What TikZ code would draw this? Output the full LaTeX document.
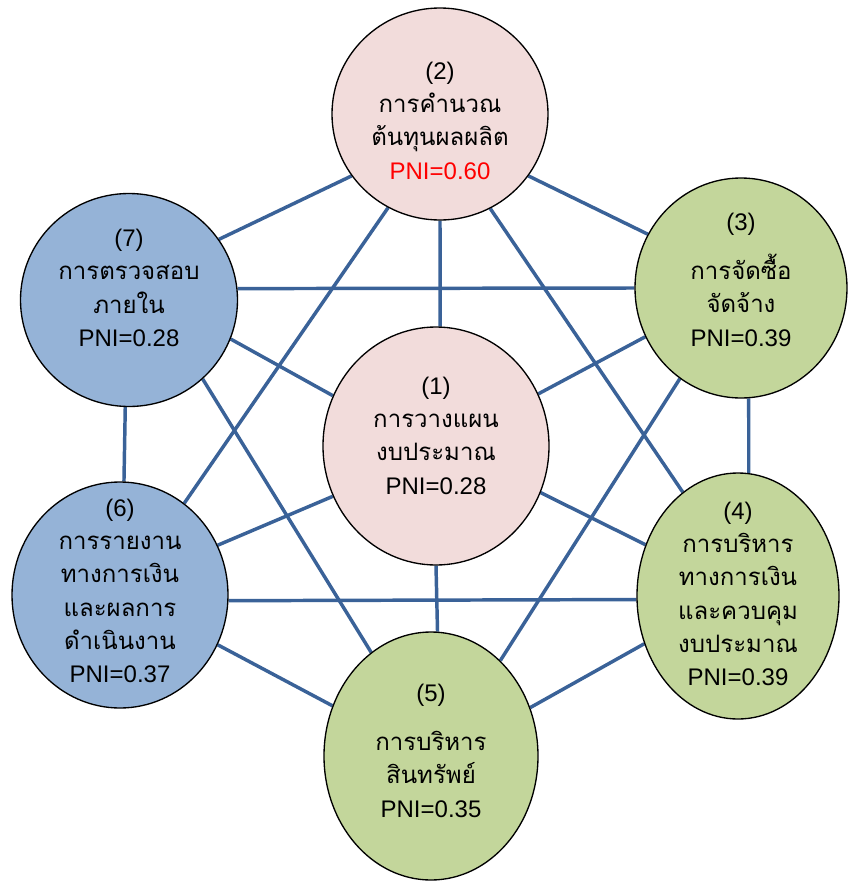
\documentclass[tikz,border=0pt]{standalone}
\usepackage{fontspec}
\setmainfont{Liberation Sans}
\newfontfamily\thaifont[Script=Thai]{Loma}
\usetikzlibrary{shapes.geometric,backgrounds}
\definecolor{pinkfill}{HTML}{F2DCDB}
\definecolor{greenfill}{HTML}{C3D69B}
\definecolor{bluefill}{HTML}{95B3D7}
\definecolor{linkblue}{HTML}{3A6298}
\begin{document}
\begin{tikzpicture}[x=0.75pt,y=-0.75pt,
  bubble/.style={ellipse, draw=black, line width=1pt, inner sep=0pt},
  labeltext/.style={align=center, font=\fontsize{18}{25}\selectfont, inner sep=0pt},
  link/.style={draw=linkblue, line width=2.6pt}]
\useasboundingbox (0,0) rectangle (847,882);
% ellipses
\node[bubble, fill=pinkfill,  minimum width=169.5pt, minimum height=178.5pt] (e1) at (436,446) {};
\node[bubble, fill=pinkfill,  minimum width=162pt,   minimum height=159pt]   (e2) at (440,114) {};
\node[bubble, fill=greenfill, minimum width=159pt,   minimum height=165pt]   (e3) at (741,288) {};
\node[bubble, fill=greenfill, minimum width=151.5pt, minimum height=184.5pt] (e4) at (738,596) {};
\node[bubble, fill=greenfill, minimum width=160.5pt, minimum height=186pt]   (e5) at (431,756) {};
\node[bubble, fill=bluefill,  minimum width=162pt,   minimum height=169.5pt] (e6) at (120,595) {};
\node[bubble, fill=bluefill,  minimum width=162.75pt,minimum height=159.75pt](e7) at (129,300) {};
% texts
\node[labeltext] (t1) at (436,435.5) {(1)\\{\thaifont การวางแผน}\\{\thaifont งบประมาณ}\\PNI=0.28};
\node[labeltext] (t2) at (440,120.5) {(2)\\{\thaifont การคำนวณ}\\{\thaifont ต้นทุนผลผลิต}\\\textcolor{red}{PNI=0.60}};
\node[labeltext] (t3) at (741,279.5) {(3)\\[12pt]{\thaifont การจัดซื้อ}\\{\thaifont จัดจ้าง}\\PNI=0.39};
\node[labeltext] (t4) at (738,594) {(4)\\{\thaifont การบริหาร}\\{\thaifont ทางการเงิน}\\{\thaifont และควบคุม}\\{\thaifont งบประมาณ}\\PNI=0.39};
\node[labeltext] (t5) at (431,750.5) {(5)\\[12pt]{\thaifont การบริหาร}\\{\thaifont สินทรัพย์}\\PNI=0.35};
\node[labeltext] (t6) at (120,591) {(6)\\{\thaifont การรายงาน}\\{\thaifont ทางการเงิน}\\{\thaifont และผลการ}\\{\thaifont ดำเนินงาน}\\PNI=0.37};
\node[labeltext] (t7) at (129,288) {(7)\\{\thaifont การตรวจสอบ}\\{\thaifont ภายใน}\\PNI=0.28};
% connectors
\begin{scope}[on background layer]
\draw[link] (e2.215) -- (e7.34);
\draw[link] (e2.325) -- (e3.150);
\draw[link] (e2.270) -- (e1.88);
\draw[link] (e2.241) -- (e6.55);
\draw[link] (e2.298) -- (e4.118);
\draw[link] (e7.6) -- (e3.180);
\draw[link] (e7.339) -- (e1.154);
\draw[link] (e7.268) -- (e6.88);
\draw[link] (e7.313) -- (e5.120);
\draw[link] (e3.207) -- (e1.27);
\draw[link] (e3.274) -- (e4.85);
\draw[link] (e3.236) -- (e5.54);
\draw[link] (e1.206) -- (e6.27);
\draw[link] (e1.336) -- (e4.151);
\draw[link] (e1.270) -- (e5.87);
\draw[link] (e6.357) -- (e4.182);
\draw[link] (e6.333) -- (e5.153);
\draw[link] (e5.26) -- (e4.207);
\end{scope}
\end{tikzpicture}
\end{document}
